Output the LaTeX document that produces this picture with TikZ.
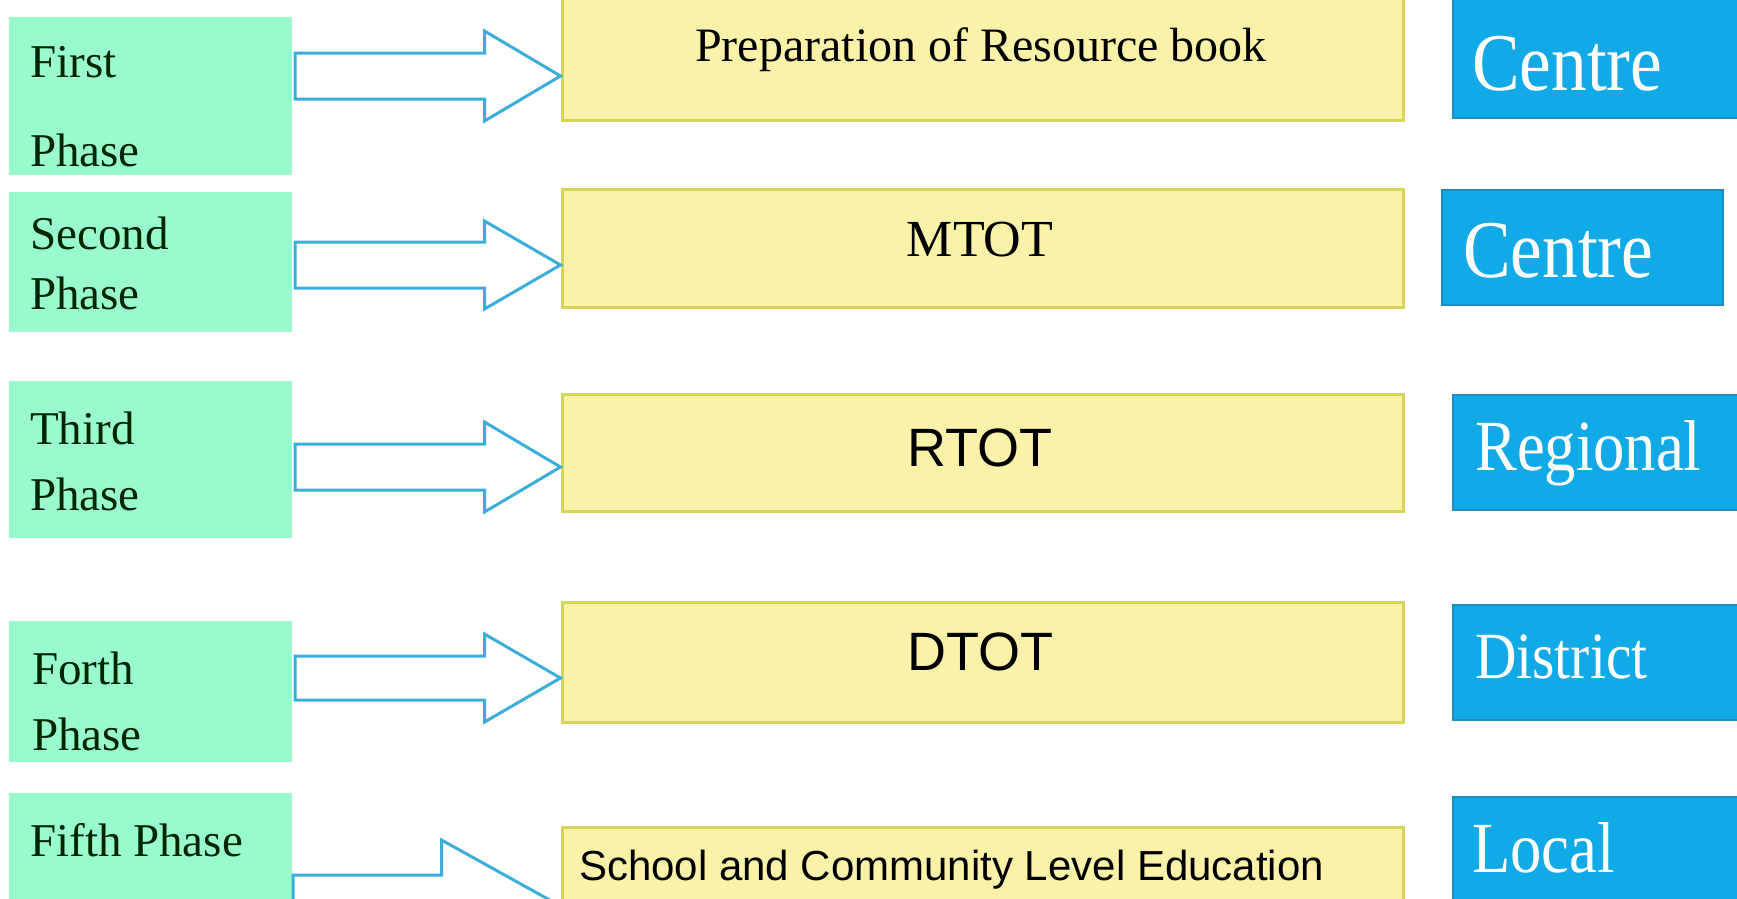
\documentclass[tikz,border=0pt]{standalone}
\usepackage{fontspec}
\setmainfont{Liberation Serif}
\newfontfamily\sansfont{Liberation Sans}
\newfontfamily\narrowfont[FakeStretch=0.87]{Liberation Serif}
\usetikzlibrary{calc}

\definecolor{phasegreen}{RGB}{153,250,206}
\definecolor{taskyellow}{RGB}{250,242,168}
\definecolor{taskborder}{RGB}{214,212,90}
\definecolor{levelblue}{RGB}{18,170,230}
\definecolor{levelborder}{RGB}{30,140,190}
\definecolor{arrowblue}{RGB}{60,174,218}

% block arrow: start, tip, shaft half, head half, head length
\newcommand{\phasearrow}[5]{%
	\draw[blockarrow] let \p1=(#1), \p2=(#2) in
	(\x1,\y1+#3) -- (\x2-#5,\y1+#3) -- (\x2-#5,\y1+#4) -- (\x2,\y2)
	-- (\x2-#5,\y1-#4) -- (\x2-#5,\y1-#3) -- (\x1,\y1-#3) -- cycle;}

\begin{document}
\begin{tikzpicture}[x=1pt, y=-1pt,
	phasebox/.style={fill=phasegreen, minimum width=283pt, inner sep=0pt},
	taskbox/.style={draw=taskborder, line width=3pt, fill=taskyellow, minimum width=841pt, inner sep=0pt},
	levelbox/.style={draw=levelborder, line width=1.2pt, fill=levelblue, inner sep=0pt},
	phasetext/.style={anchor=base west, inner sep=0pt, text=black!85!green, font=\fontsize{47}{50}\selectfont},
	tasktext/.style={anchor=base, inner sep=0pt, text=black},
	leveltext/.style={anchor=base west, inner sep=0pt, text=white},
	blockarrow/.style={draw=arrowblue, line width=3pt, fill=white, line join=miter}]
	
	\useasboundingbox (0,0) rectangle (1737,898);
	\clip (0,0) rectangle (1737,898);
	
	%phase boxes
	\node[phasebox, minimum height=158pt] (g1) at (150.5,96){};
	\node[phasebox, minimum height=140pt] (g2) at (150.5,262){};
	\node[phasebox, minimum height=157pt] (g3) at (150.5,459.5){};
	\node[phasebox, minimum height=141pt] (g4) at (150.5,691.5){};
	\node[phasebox, minimum height=117pt] (g5) at (150.5,851.5){};
	
	\node[phasetext] (p1a) at (30,77){First};
	\node[phasetext] (p1b) at (30,166){Phase};
	\node[phasetext] (p2a) at (30,249){Second};
	\node[phasetext] (p2b) at (30,309){Phase};
	\node[phasetext] (p3a) at (30,444){Third};
	\node[phasetext] (p3b) at (30,510){Phase};
	\node[phasetext] (p4a) at (32,684){Forth};
	\node[phasetext] (p4b) at (32,750){Phase};
	\node[phasetext] (p5) at (30,856){Fifth Phase};
	
	%task boxes
	\node[taskbox, minimum height=125pt] (y1) at (982.5,57.5){};
	\node[taskbox, minimum height=118pt] (y2) at (982.5,248){};
	\node[taskbox, minimum height=117pt] (y3) at (982.5,452.5){};
	\node[taskbox, minimum height=120pt] (y4) at (982.5,662){};
	\node[taskbox, minimum height=113pt] (y5) at (982.5,883.5){};
	
	\node[tasktext, font=\fontsize{48}{50}\selectfont] (t1) at (981,61){Preparation of Resource book};
	\node[tasktext, font=\fontsize{52}{54}\selectfont] (t2) at (980,256){MTOT};
	\node[tasktext, font=\sansfont\fontsize{54}{56}\selectfont] (t3) at (980,466){RTOT};
	\node[tasktext, font=\sansfont\fontsize{54}{56}\selectfont] (t4) at (980,670){DTOT};
	\node[tasktext, anchor=base west, font=\sansfont\fontsize{42}{44}\selectfont] (t5) at (579,880){School and Community Level Education};
	
	%level boxes
	\node[levelbox, minimum width=292pt, minimum height=123pt] (b1) at (1599,56.5){};
	\node[levelbox, minimum width=281pt, minimum height=115pt] (b2) at (1582.5,247.5){};
	\node[levelbox, minimum width=292pt, minimum height=115pt] (b3) at (1599,452.5){};
	\node[levelbox, minimum width=292pt, minimum height=115pt] (b4) at (1599,662.5){};
	\node[levelbox, minimum width=292pt, minimum height=113pt] (b5) at (1599,853.5){};
	
	\node[leveltext, font=\narrowfont\fontsize{82}{84}\selectfont] (l1) at (1472,90){Centre};
	\node[leveltext, font=\narrowfont\fontsize{82}{84}\selectfont] (l2) at (1463,277){Centre};
	\node[leveltext, font=\narrowfont\fontsize{72}{74}\selectfont] (l3) at (1475,470){Regional};
	\node[leveltext, font=\narrowfont\fontsize{66}{68}\selectfont] (l4) at (1475,678){District};
	\node[leveltext, font=\narrowfont\fontsize{72}{74}\selectfont] (l5) at (1472,872){Local};
	
	%arrows
	\coordinate (a1) at (295,76);
	\coordinate (a2) at (295,265);
	\coordinate (a3) at (295,467);
	\coordinate (a4) at (295,678);
	\coordinate (a5) at (293,906);
	
	\phasearrow{a1}{y1.west |- a1}{23pt}{45pt}{76pt}
	\phasearrow{a2}{y2.west |- a2}{23pt}{44pt}{76pt}
	\phasearrow{a3}{y3.west |- a3}{23pt}{45pt}{76pt}
	\phasearrow{a4}{y4.west |- a4}{22pt}{44pt}{76pt}
	\phasearrow{a5}{y5.west |- a5}{31pt}{66pt}{119pt}
	
\end{tikzpicture}
\end{document}
